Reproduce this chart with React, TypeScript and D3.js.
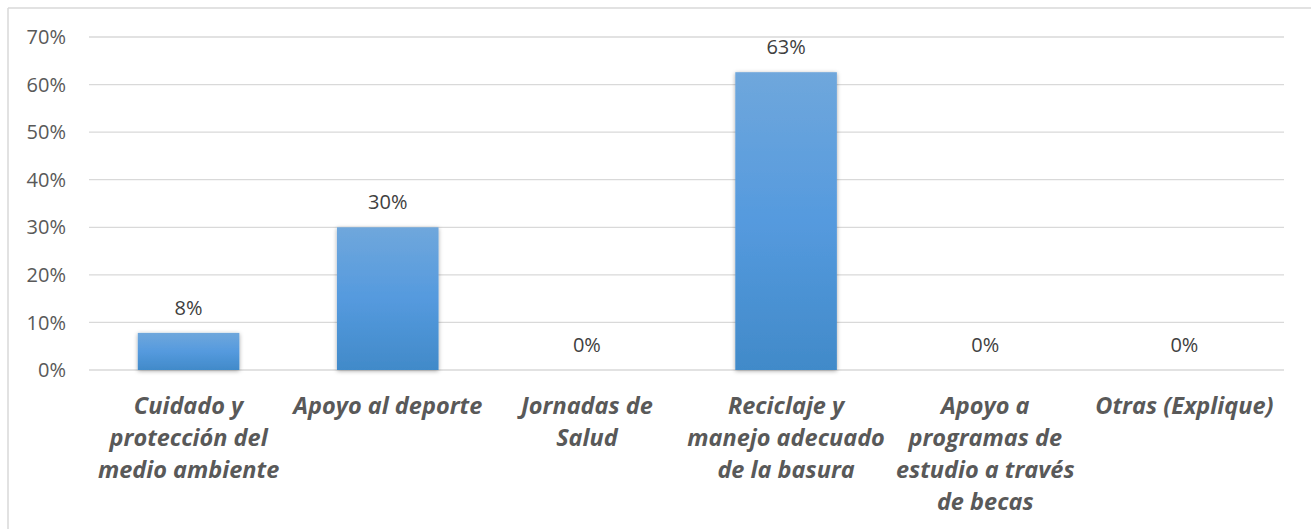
import React from "react";
import * as d3 from "d3";

const categories = [
  ["Cuidado y", "protección del", "medio ambiente"],
  ["Apoyo al deporte"],
  ["Jornadas de", "Salud"],
  ["Reciclaje y", "manejo adecuado", "de la basura"],
  ["Apoyo a", "programas de", "estudio a través", "de becas"],
  ["Otras (Explique)"],
];
const values = [0.078, 0.3, 0, 0.626, 0, 0];
const valueLabels = ["8%", "30%", "0%", "63%", "0%", "0%"];
const yTicks = [0, 0.1, 0.2, 0.3, 0.4, 0.5, 0.6, 0.7];

const W = 1311;
const H = 529;
const plotLeft = 89;
const plotRight = 1284;
const plotTop = 37;
const plotBottom = 370;

export default function App() {
  const x = d3
    .scaleBand<number>()
    .domain(d3.range(categories.length))
    .range([plotLeft, plotRight])
    .paddingInner(0.49)
    .paddingOuter(0.245);
  const y = d3.scaleLinear().domain([0, 0.7]).range([plotBottom, plotTop]);
  const fmt = d3.format(".0%");
  const font = "'Open Sans', 'Noto Sans', sans-serif";
  const step = (plotRight - plotLeft) / categories.length;

  return (
    <svg width={W} height={H} style={{ position: "absolute", left: 0, top: 0 }}>
      <defs>
        <linearGradient id="barGrad" x1="0" y1="0" x2="0" y2="1">
          <stop offset="0%" stopColor="#6fa7dc" />
          <stop offset="50%" stopColor="#559ade" />
          <stop offset="100%" stopColor="#418ac9" />
        </linearGradient>
        <filter id="shadow" x="-20%" y="-20%" width="140%" height="140%">
          <feDropShadow dx="0" dy="1" stdDeviation="2" floodColor="#000" floodOpacity="0.35" />
        </filter>
      </defs>
      <rect x={0} y={0} width={W} height={H} fill="#fff" />
      <line x1={8} x2={W} y1={8} y2={8} stroke="#d9d9d9" strokeWidth={1.5} />
      <line x1={8} x2={8} y1={8} y2={H} stroke="#d9d9d9" strokeWidth={1.5} />
      {yTicks.map((t) => (
        <g key={t}>
          <line x1={plotLeft} x2={plotRight} y1={y(t)} y2={y(t)} stroke="#d9d9d9" strokeWidth={1.3} />
          <text x={66} y={y(t)} dy="0.36em" textAnchor="end" fontFamily={font} fontSize={20} fill="#595959">
            {fmt(t)}
          </text>
        </g>
      ))}
      {values.map((v, i) => {
        const bx = x(i)!;
        const bw = x.bandwidth();
        const top = y(v);
        return (
          <g key={i}>
            {v > 0 && (
              <rect x={bx} y={top} width={bw} height={plotBottom - top} fill="url(#barGrad)" filter="url(#shadow)" />
            )}
            <text x={bx + bw / 2} y={top - 18} textAnchor="middle" fontFamily={font} fontSize={20} fill="#404040">
              {valueLabels[i]}
            </text>
          </g>
        );
      })}
      {categories.map((lines, i) => (
        <text
          key={i}
          x={plotLeft + step * (i + 0.5)}
          textAnchor="middle"
          fontFamily={font}
          fontSize={23.5}
          fontWeight="bold"
          fontStyle="italic"
          fill="#595959"
        >
          {lines.map((l, j) => (
            <tspan key={j} x={plotLeft + step * (i + 0.5)} y={414 + j * 32}>
              {l}
            </tspan>
          ))}
        </text>
      ))}
    </svg>
  );
}
